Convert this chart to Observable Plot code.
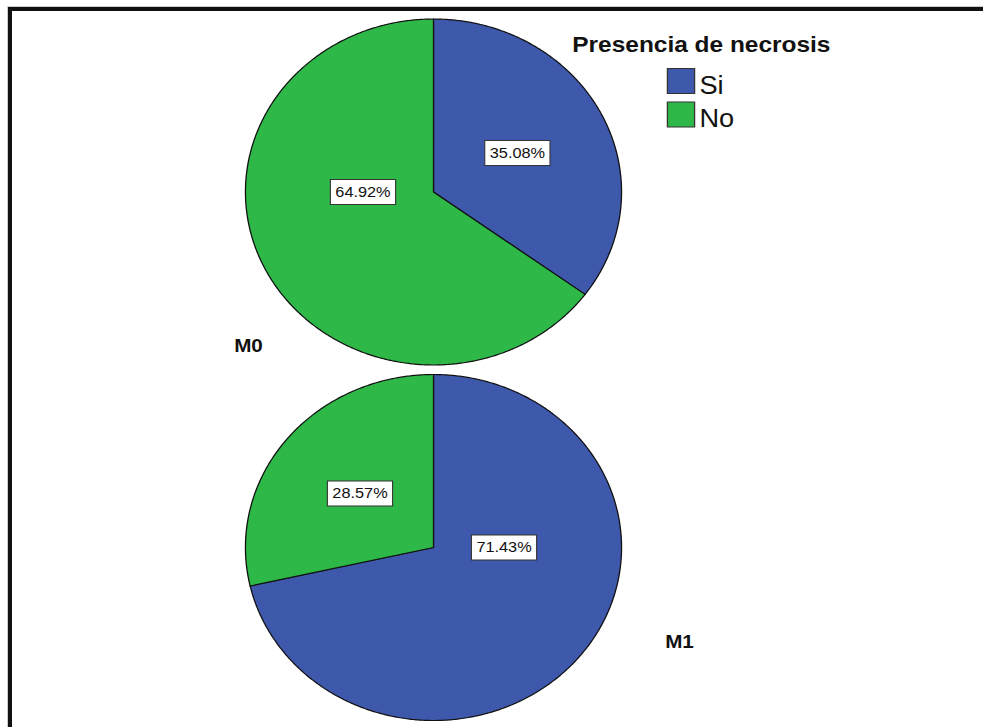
<!DOCTYPE html>
<html>
<head>
<meta charset="utf-8">
<script src="https://cdn.jsdelivr.net/npm/d3@7"></script>
<script src="https://cdn.jsdelivr.net/npm/@observablehq/plot@0.6"></script>
<style>
  html, body { margin: 0; padding: 0; background: #fff; overflow: hidden; width: 983px; height: 727px; }
  #chart { position: absolute; left: 0; top: 0; transform: scaleX(1.087); transform-origin: 0 0; }
  #frame { position: absolute; left: 8px; top: 7px; width: 1100px; height: 800px;
           border-top: 4px solid #111; border-left: 4px solid #111; box-shadow: -1px -1px 0 #ccc; }
</style>
</head>
<body>
<div id="chart"></div>
<div id="frame"></div>
<script>
// Presencia de necrosis por grupo (M0 / M1), porcentajes
const groups = ["M0", "M1"];
const categories = ["Si", "No"];
const siPct = [35.08, 71.43];
const noPct = [64.92, 28.57];
const palette = ["#3E58AC", "#2EB848"];
const legendTitle = "Presencia de necrosis";

const FONT = "'Liberation Sans', Arial, Helvetica, sans-serif";
const step = 2.055;                 // vertical distance between pie centres, in radii
const groupLabelOffset = [[-0.984, -0.887], [1.308, -0.543]];

// one slice per group/category, clockwise from 12 o'clock
const slices = [];
groups.forEach((g, gi) => {
  const values = [siPct[gi], noPct[gi]];
  let start = 0;
  values.forEach((v, ci) => {
    slices.push({
      group: g, category: categories[ci], value: v,
      a0: start / 100 * 2 * Math.PI,
      a1: (start + v) / 100 * 2 * Math.PI,
      cy: -gi * step
    });
    start += v;
  });
});

// closed outline of each wedge
const outline = slices.flatMap(s => {
  const n = Math.max(2, Math.ceil((s.a1 - s.a0) / (Math.PI / 360)));
  const pts = [{x: 0, y: s.cy}];
  for (let k = 0; k <= n; k++) {
    const a = s.a0 + (s.a1 - s.a0) * k / n;
    pts.push({x: Math.sin(a), y: s.cy + Math.cos(a)});
  }
  pts.push({x: 0, y: s.cy});
  return pts.map(p => ({...p, key: s.group + "-" + s.category, category: s.category}));
});

// value labels: mid-angle for smaller wedges, horizontal for wedges over half the pie
const labels = slices.map(s => {
  const mid = (s.a0 + s.a1) / 2;
  let a = mid, r = 0.5;
  if (s.value > 50) { a = Math.sin(mid) >= 0 ? Math.PI / 2 : 3 * Math.PI / 2; r = 0.375; }
  return {x: r * Math.sin(a), y: s.cy + r * Math.cos(a), text: s.value.toFixed(2) + "%"};
});

const groupLabels = groups.map((g, gi) => ({
  x: groupLabelOffset[gi][0], y: -gi * step + groupLabelOffset[gi][1], text: g
}));

// rectangular symbol of fixed pixel size
const box = (w, h) => ({
  draw(ctx) {
    ctx.moveTo(-w / 2, -h / 2); ctx.lineTo(w / 2, -h / 2);
    ctx.lineTo(w / 2, h / 2); ctx.lineTo(-w / 2, h / 2); ctx.closePath();
  }
});

const legendMarks = [
  Plot.text([legendTitle], {
    frameAnchor: "top-left", dx: 526, dy: 51, text: d => d,
    textAnchor: "start", lineAnchor: "bottom",
    fontWeight: "bold", fontSize: 22.5, fontFamily: FONT, fill: "#111"
  }),
  ...categories.flatMap((c, i) => [
    Plot.dot([c], {
      frameAnchor: "top-left", dx: 626, dy: 80.5 + 33.5 * i,
      symbol: box(25, 25), fill: d => d, stroke: "#333", strokeWidth: 1.2
    }),
    Plot.text([c], {
      frameAnchor: "top-left", dx: 643, dy: 93 + 33.5 * i, text: d => d,
      textAnchor: "start", lineAnchor: "bottom",
      fontSize: 25, fontFamily: FONT, fill: "#111"
    })
  ])
];

const chart = Plot.plot({
  width: 904,
  height: 727,
  margin: 0,
  x: {domain: [-1, 1], range: [225.3, 571.3], axis: null},
  y: {domain: [1, -1], range: [18.5, 364.5], axis: null},
  color: {domain: categories, range: palette},
  style: {background: "transparent", fontFamily: FONT},
  marks: [
    Plot.line(outline, {
      x: "x", y: "y", z: "key", fill: "category",
      stroke: "#111", strokeWidth: 1.2, strokeLinejoin: "round"
    }),
    Plot.dot(labels, {x: "x", y: "y", symbol: box(60, 25), fill: "white", stroke: "#333", strokeWidth: 1}),
    Plot.text(labels, {x: "x", y: "y", text: "text", fontSize: 15, fontFamily: FONT, fill: "#111"}),
    Plot.text(groupLabels, {x: "x", y: "y", text: "text", fontSize: 19, fontWeight: "bold", fontFamily: FONT, fill: "#111"}),
    ...legendMarks
  ]
});

document.getElementById("chart").appendChild(chart);
</script>
</body>
</html>
